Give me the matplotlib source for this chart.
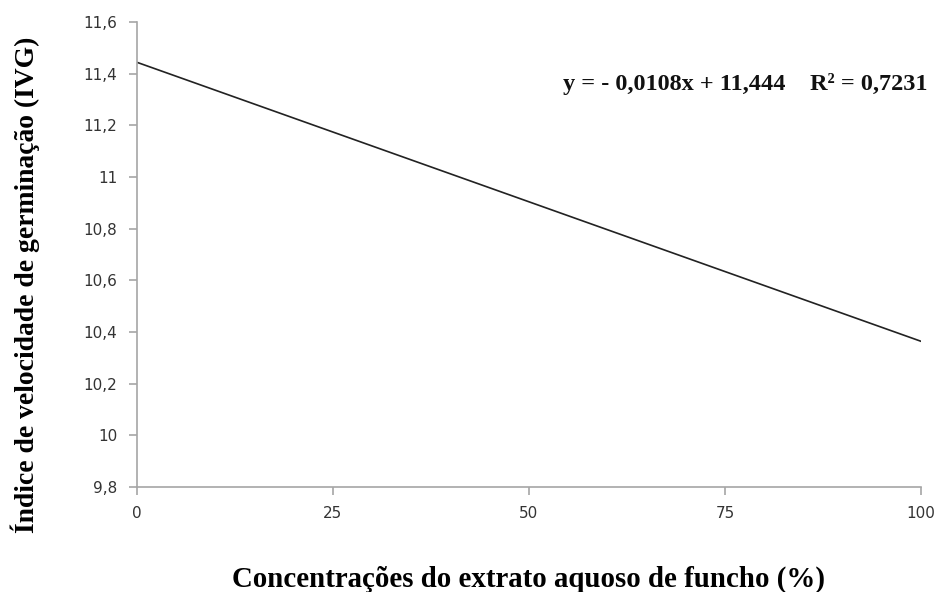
import matplotlib
matplotlib.use("Agg")
import matplotlib.pyplot as plt

# regression line end points
conc = [0, 100]
ivg = [11.444, 10.364]
xticks = [0, 25, 50, 75, 100]
yticks = [9.8, 10.0, 10.2, 10.4, 10.6, 10.8, 11.0, 11.2, 11.4, 11.6]
ytick_labels = ["9,8", "10", "10,2", "10,4", "10,6", "10,8", "11", "11,2", "11,4", "11,6"]
equation = "y = - 0,0108x + 11,444    R² = 0,7231"

fig = plt.figure(figsize=(9.37, 5.92), dpi=100)
ax = fig.add_axes([0.1462, 0.1774, 0.8367, 0.7854])

ax.plot(conc, ivg, color="#222222", linewidth=1.2)

ax.set_xlim(0, 100)
ax.set_ylim(9.8, 11.6)
ax.set_xticks(xticks)
ax.set_yticks(yticks)
ax.set_yticklabels(ytick_labels)

for s in ["top", "right"]:
    ax.spines[s].set_visible(False)
for s in ["left", "bottom"]:
    ax.spines[s].set_color("#a6a6a6")
    ax.spines[s].set_linewidth(1.2)
ax.tick_params(axis="both", color="#a6a6a6", length=6, width=1.2,
               labelsize=11, labelcolor="#333333", pad=8)
for lab in ax.get_xticklabels() + ax.get_yticklabels():
    lab.set_family("DejaVu Sans")

serif = ["Liberation Serif", "DejaVu Serif"]
ax.set_xlabel("Concentrações do extrato aquoso de funcho (%)", fontsize=20.8,
              fontweight="bold", family=serif, va="baseline")
ax.xaxis.set_label_coords(0.5, -0.215)
ax.set_ylabel("Índice de velocidade de germinação (IVG)", fontsize=19.9,
              fontweight="bold", family=serif, va="center")
ax.yaxis.set_label_coords(-0.143, 0.435)

ax.text(1.0077, 0.854, equation, transform=ax.transAxes, ha="right", va="baseline",
        fontsize=17.5, fontweight="bold", family=serif, color="#111111")

fig.savefig("out.png", dpi=100)
